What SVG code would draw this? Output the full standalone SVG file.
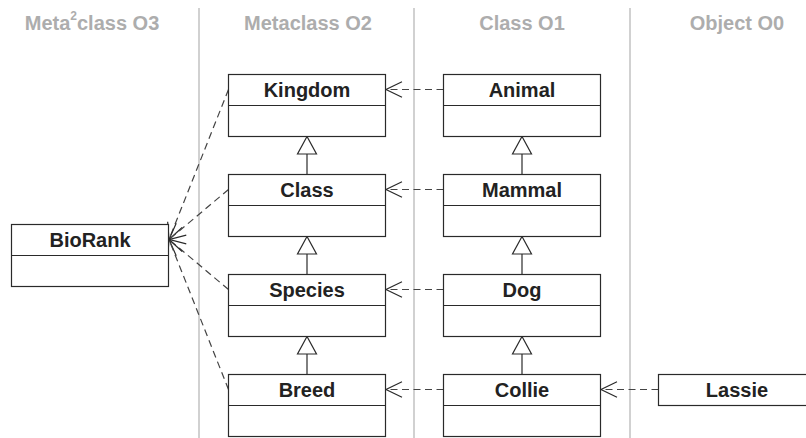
<svg xmlns="http://www.w3.org/2000/svg" width="806" height="438" viewBox="0 0 806 438">
<style>
.sep{stroke:#c6c6c6;stroke-width:1.6;fill:none}
.hdr{font-family:"Liberation Sans",Arial,sans-serif;font-weight:bold;font-size:20px;fill:#adadad;text-anchor:middle}
.box{fill:#fff;stroke:#2a2a2a;stroke-width:1.2}
.div{stroke:#2a2a2a;stroke-width:1.2}
.lbl{font-family:"Liberation Sans",Arial,sans-serif;font-weight:bold;font-size:20px;fill:#222;text-anchor:middle}
.dep{stroke:#444;stroke-width:1.2;stroke-dasharray:7 4.5;fill:none;marker-end:url(#open)}
.gen{stroke:#2a2a2a;stroke-width:1.2;fill:none}
.tri{fill:#fff;stroke:#2a2a2a;stroke-width:1.2}
</style>
<defs>
<marker id="open" markerUnits="userSpaceOnUse" markerWidth="40" markerHeight="40" refX="0" refY="0" viewBox="-20 -20 40 40" orient="auto" overflow="visible">
<path d="M -16 -7.8 L 0 0 L -16 7.8" fill="none" stroke="#2a2a2a" stroke-width="1.2" stroke-dasharray="none"/>
</marker>
</defs>
<g id="separators">
<line class="sep" x1="199" y1="8" x2="199" y2="438"/>
<line class="sep" x1="414" y1="8" x2="414" y2="438"/>
<line class="sep" x1="630" y1="8" x2="630" y2="438"/>
</g>
<g id="headers">
<text class="hdr" x="92" y="30">Meta<tspan font-size="12" dy="-10">2</tspan><tspan dy="10">class O3</tspan></text>
<text class="hdr" x="308" y="30">Metaclass O2</text>
<text class="hdr" x="522" y="30">Class O1</text>
<text class="hdr" x="737" y="30">Object O0</text>
</g>
<g id="connectors">
<line class="gen" x1="307" y1="154" x2="307" y2="174.5"/>
<polygon class="tri" points="307,136.5 297.5,154 316.5,154"/>
<line class="gen" x1="307" y1="254" x2="307" y2="274.5"/>
<polygon class="tri" points="307,236.5 297.5,254 316.5,254"/>
<line class="gen" x1="307" y1="354" x2="307" y2="374.5"/>
<polygon class="tri" points="307,336.5 297.5,354 316.5,354"/>
<line class="gen" x1="522" y1="154" x2="522" y2="174.5"/>
<polygon class="tri" points="522,136.5 512.5,154 531.5,154"/>
<line class="gen" x1="522" y1="254" x2="522" y2="274.5"/>
<polygon class="tri" points="522,236.5 512.5,254 531.5,254"/>
<line class="gen" x1="522" y1="354" x2="522" y2="374.5"/>
<polygon class="tri" points="522,336.5 512.5,354 531.5,354"/>
<path class="dep" d="M 443.5 89.5 L 386 89.5"/>
<path class="dep" d="M 443.5 189.5 L 386 189.5"/>
<path class="dep" d="M 443.5 289.5 L 386 289.5"/>
<path class="dep" d="M 443.5 389.5 L 386 389.5"/>
<path class="dep" d="M 658.5 389.5 L 601 389.5"/>
<path class="dep" d="M 228.5 89.5 L 169 239.5"/>
<path class="dep" d="M 228.5 189.5 L 169 239.5"/>
<path class="dep" d="M 228.5 289.5 L 169 239.5"/>
<path class="dep" d="M 228.5 389.5 L 169 239.5"/>
</g>
<g id="BioRank">
<rect class="box" x="11.5" y="224.5" width="157" height="62"/>
<line class="div" x1="11.5" y1="255.5" x2="168.5" y2="255.5"/>
<text class="lbl" x="90" y="247">BioRank</text>
</g>
<g id="Kingdom">
<rect class="box" x="228.5" y="74.5" width="157" height="62"/>
<line class="div" x1="228.5" y1="105.5" x2="385.5" y2="105.5"/>
<text class="lbl" x="307" y="97">Kingdom</text>
</g>
<g id="Class">
<rect class="box" x="228.5" y="174.5" width="157" height="62"/>
<line class="div" x1="228.5" y1="205.5" x2="385.5" y2="205.5"/>
<text class="lbl" x="307" y="197">Class</text>
</g>
<g id="Species">
<rect class="box" x="228.5" y="274.5" width="157" height="62"/>
<line class="div" x1="228.5" y1="305.5" x2="385.5" y2="305.5"/>
<text class="lbl" x="307" y="297">Species</text>
</g>
<g id="Breed">
<rect class="box" x="228.5" y="374.5" width="157" height="62"/>
<line class="div" x1="228.5" y1="405.5" x2="385.5" y2="405.5"/>
<text class="lbl" x="307" y="397">Breed</text>
</g>
<g id="Animal">
<rect class="box" x="443.5" y="74.5" width="157" height="62"/>
<line class="div" x1="443.5" y1="105.5" x2="600.5" y2="105.5"/>
<text class="lbl" x="522" y="97">Animal</text>
</g>
<g id="Mammal">
<rect class="box" x="443.5" y="174.5" width="157" height="62"/>
<line class="div" x1="443.5" y1="205.5" x2="600.5" y2="205.5"/>
<text class="lbl" x="522" y="197">Mammal</text>
</g>
<g id="Dog">
<rect class="box" x="443.5" y="274.5" width="157" height="62"/>
<line class="div" x1="443.5" y1="305.5" x2="600.5" y2="305.5"/>
<text class="lbl" x="522" y="297">Dog</text>
</g>
<g id="Collie">
<rect class="box" x="443.5" y="374.5" width="157" height="62"/>
<line class="div" x1="443.5" y1="405.5" x2="600.5" y2="405.5"/>
<text class="lbl" x="522" y="397">Collie</text>
</g>
<g id="Lassie">
<rect class="box" x="658.5" y="374.5" width="157" height="31"/>
<text class="lbl" x="737" y="397">Lassie</text>
</g>
</svg>
